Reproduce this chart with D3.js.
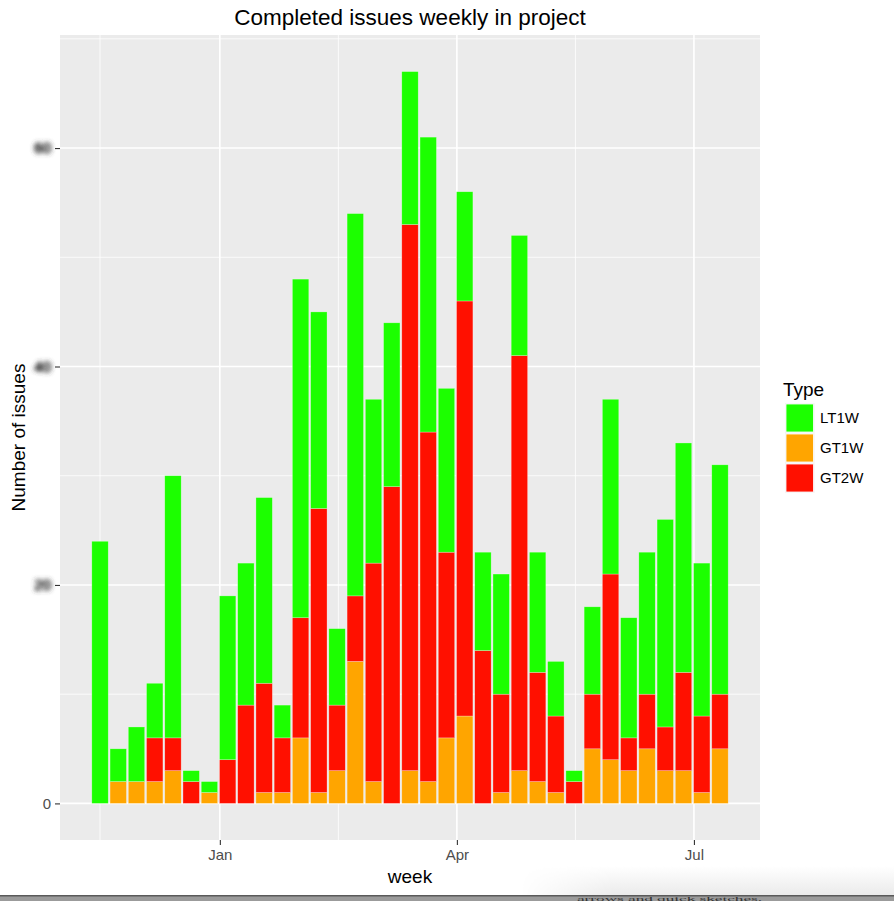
<!DOCTYPE html>
<html>
<head>
<meta charset="utf-8">
<script src="https://cdn.jsdelivr.net/npm/d3@7"></script>
<style>
  body { margin: 0; background: #fff; }
  svg { display: block; font-family: "Liberation Sans", Arial, Helvetica, sans-serif; }
</style>
</head>
<body>
<div id="canvas"></div>
<script>
// weekly buckets (week start, Monday)
var weeks = ["2015-11-16","2015-11-23","2015-11-30","2015-12-07","2015-12-14","2015-12-21","2015-12-28",
             "2016-01-04","2016-01-11","2016-01-18","2016-01-25","2016-02-01","2016-02-08","2016-02-15",
             "2016-02-22","2016-02-29","2016-03-07","2016-03-14","2016-03-21","2016-03-28","2016-04-04",
             "2016-04-11","2016-04-18","2016-04-25","2016-05-02","2016-05-09","2016-05-16","2016-05-23",
             "2016-05-30","2016-06-06","2016-06-13","2016-06-20","2016-06-27","2016-07-04","2016-07-11"];
var lt1w = [24,3,5,5,24,1,1,15,13,17,3,31,18,7,35,15,15,14,27,15,10,9,11,11,11,5,1,8,16,11,13,19,21,14,21];
var gt1w = [0,2,2,2,3,0,1,0,0,1,1,6,1,3,13,2,0,3,2,6,8,0,1,3,2,1,0,5,4,3,5,3,3,1,5];
var gt2w = [0,0,0,4,3,2,0,4,9,10,5,11,26,6,6,20,29,50,32,17,38,14,9,38,10,7,2,5,17,3,5,4,9,7,5];

var types = ["LT1W", "GT1W", "GT2W"];
var typeColours = ["#1cff00", "#ffa500", "#ff1000"];
var yTicks = [0, 20, 40, 60];
var xTickDates = ["2016-01-01", "2016-04-01", "2016-07-01"];
var xTickLabels = ["Jan", "Apr", "Jul"];

var W = 894, H = 901;
var panel = {left: 60, right: 760, top: 35, bottom: 840};
var DAY = 864e5;

var parse = d3.utcParse("%Y-%m-%d");
var data = weeks.map(function (w, i) {
    return {week: parse(w), LT1W: lt1w[i], GT1W: gt1w[i], GT2W: gt2w[i]};
});

var svg = d3.select("#canvas").append("svg")
    .attr("width", W)
    .attr("height", H);

var defs = svg.append("defs");
// the y tick labels are blurred out in the original
var blur = defs.append("filter").attr("id", "smudge")
    .attr("x", "-60%").attr("y", "-60%").attr("width", "220%").attr("height", "220%");
blur.append("feGaussianBlur").attr("stdDeviation", 2.8);
var ct = blur.append("feComponentTransfer");
ct.append("feFuncA").attr("type", "linear").attr("slope", 2.2);

var shade = defs.append("linearGradient").attr("id", "shade")
    .attr("x1", 0).attr("y1", 0).attr("x2", 0).attr("y2", 1);
shade.append("stop").attr("offset", "0%").attr("stop-color", "#ffffff");
shade.append("stop").attr("offset", "100%").attr("stop-color", "#ebebeb");
var fade = defs.append("linearGradient").attr("id", "fade")
    .attr("x1", 0).attr("y1", 0).attr("x2", 1).attr("y2", 0);
fade.append("stop").attr("offset", "0%").attr("stop-color", "#000");
fade.append("stop").attr("offset", "25%").attr("stop-color", "#fff");
fade.append("stop").attr("offset", "100%").attr("stop-color", "#fff");
defs.append("mask").attr("id", "fadeMask")
    .append("rect").attr("x", 520).attr("y", 860).attr("width", W - 520).attr("height", 40)
    .attr("fill", "url(#fade)");

// scales, with ggplot style 5% expansion
var halfBar = 0.45 * 7 * DAY;
var xMin = d3.min(data, function (d) { return d.week; }).getTime() - halfBar;
var xMax = d3.max(data, function (d) { return d.week; }).getTime() + halfBar;
var xPad = (xMax - xMin) * 0.05;
var x = d3.scaleUtc()
    .domain([new Date(xMin - xPad), new Date(xMax + xPad)])
    .range([panel.left, panel.right]);

var yMax = d3.max(data, function (d) { return d.LT1W + d.GT1W + d.GT2W; });
var y = d3.scaleLinear()
    .domain([-yMax * 0.05, yMax * 1.05])
    .range([panel.bottom, panel.top]);

// panel background and grid
svg.append("rect")
    .attr("x", panel.left).attr("y", panel.top)
    .attr("width", panel.right - panel.left).attr("height", panel.bottom - panel.top)
    .attr("fill", "#ebebeb");

var majorX = xTickDates.map(parse);
var minorX = [];
var allMajor = [d3.utcMonth.offset(majorX[0], -3)].concat(majorX, [d3.utcMonth.offset(majorX[2], 3)]);
for (var i = 0; i < allMajor.length - 1; i++) {
    var mid = new Date((allMajor[i].getTime() + allMajor[i + 1].getTime()) / 2);
    if (x(mid) > panel.left && x(mid) < panel.right) minorX.push(mid);
}
var minorY = [10, 30, 50, 70];

var grid = svg.append("g");
grid.selectAll("line.minx").data(minorX).enter().append("line")
    .attr("x1", function (d) { return x(d); }).attr("x2", function (d) { return x(d); })
    .attr("y1", panel.top).attr("y2", panel.bottom)
    .attr("stroke", "#fff").attr("stroke-width", 0.8);
grid.selectAll("line.miny").data(minorY).enter().append("line")
    .attr("y1", function (d) { return y(d); }).attr("y2", function (d) { return y(d); })
    .attr("x1", panel.left).attr("x2", panel.right)
    .attr("stroke", "#fff").attr("stroke-width", 0.8);
grid.selectAll("line.majx").data(majorX).enter().append("line")
    .attr("x1", function (d) { return x(d); }).attr("x2", function (d) { return x(d); })
    .attr("y1", panel.top).attr("y2", panel.bottom)
    .attr("stroke", "#fff").attr("stroke-width", 1.6);
grid.selectAll("line.majy").data(yTicks).enter().append("line")
    .attr("y1", function (d) { return y(d); }).attr("y2", function (d) { return y(d); })
    .attr("x1", panel.left).attr("x2", panel.right)
    .attr("stroke", "#fff").attr("stroke-width", 1.6);

// stacked bars: GT1W at the bottom, GT2W, then LT1W on top
var stackKeys = ["GT1W", "GT2W", "LT1W"];
var series = d3.stack().keys(stackKeys)(data);
var colour = d3.scaleOrdinal().domain(types).range(typeColours);

svg.append("g").selectAll("g")
    .data(series)
    .enter().append("g")
    .attr("fill", function (s) { return colour(s.key); })
    .selectAll("rect")
    .data(function (s) { return s.filter(function (d) { return d[1] > d[0]; }); })
    .enter().append("rect")
    .attr("x", function (d) { return x(new Date(d.data.week.getTime() - halfBar)); })
    .attr("width", function (d) { return x(new Date(d.data.week.getTime() + halfBar)) - x(new Date(d.data.week.getTime() - halfBar)); })
    .attr("y", function (d) { return y(d[1]); })
    .attr("height", function (d) { return y(d[0]) - y(d[1]); })
    .attr("stroke", "#ffffff")
    .attr("stroke-opacity", 0.45)
    .attr("stroke-width", 0.6);

// axes
var xAxis = d3.axisBottom(x)
    .tickValues(majorX)
    .tickFormat(function (d, i) { return xTickLabels[i]; })
    .tickSize(5).tickPadding(4);
var gx = svg.append("g").attr("transform", "translate(0," + panel.bottom + ")").call(xAxis);
gx.select(".domain").remove();
gx.selectAll("line").attr("stroke", "#333").attr("stroke-width", 1.1);
gx.selectAll("text").attr("fill", "#4d4d4d").attr("font-size", 15).attr("font-family", null);

var yAxis = d3.axisLeft(y)
    .tickValues(yTicks)
    .tickFormat(d3.format("d"))
    .tickSize(5).tickPadding(4);
var gy = svg.append("g").attr("transform", "translate(" + panel.left + ",0)").call(yAxis);
gy.select(".domain").remove();
gy.selectAll("line").attr("stroke", "#333").attr("stroke-width", 1.1);
gy.selectAll("text").attr("fill", "#4d4d4d").attr("font-size", 15).attr("font-family", null)
    .attr("filter", function (d) { return d === 0 ? null : "url(#smudge)"; });

// titles
svg.append("text")
    .attr("x", (panel.left + panel.right) / 2).attr("y", 25)
    .attr("text-anchor", "middle").attr("font-size", 22.5).attr("fill", "#000")
    .text("Completed issues weekly in project");

svg.append("text")
    .attr("x", (panel.left + panel.right) / 2).attr("y", 883)
    .attr("text-anchor", "middle").attr("font-size", 19).attr("fill", "#000")
    .text("week");

svg.append("text")
    .attr("transform", "translate(25," + (panel.top + panel.bottom) / 2 + ") rotate(-90)")
    .attr("text-anchor", "middle").attr("font-size", 19).attr("fill", "#000")
    .text("Number of issues");

// legend
var legend = svg.append("g").attr("transform", "translate(783,0)");
legend.append("text").attr("x", 0).attr("y", 396)
    .attr("font-size", 19).attr("fill", "#000").text("Type");
var keys = legend.selectAll("g.key").data(types).enter().append("g")
    .attr("transform", function (d, i) { return "translate(2," + (403 + i * 30) + ")"; });
keys.append("rect").attr("width", 29.5).attr("height", 30).attr("fill", "#f2f2f2");
keys.append("rect").attr("x", 1).attr("y", 1).attr("width", 27.5).attr("height", 28)
    .attr("fill", function (d) { return colour(d); })
    .attr("stroke", "#fff").attr("stroke-width", 0.8);
keys.append("text").attr("x", 35).attr("y", 15).attr("dy", "0.35em")
    .attr("font-size", 15).attr("fill", "#000").text(function (d) { return d; });

// bottom edge of the screenshot
svg.append("rect").attr("x", 520).attr("y", 866).attr("width", W - 520).attr("height", 29)
    .attr("fill", "url(#shade)").attr("mask", "url(#fadeMask)");
svg.append("rect").attr("x", 0).attr("y", 895).attr("width", W).attr("height", 6).attr("fill", "#9b9b9b");
svg.append("rect").attr("x", 0).attr("y", 895).attr("width", W).attr("height", 1.5).attr("fill", "#5a5a5a");
svg.append("text").attr("x", 577).attr("y", 900.5)
    .attr("font-family", "Liberation Serif, serif").attr("font-size", 6).attr("fill", "#333")
    .attr("textLength", 185).attr("lengthAdjust", "spacingAndGlyphs")
    .text("arrows and quick sketches.");
</script>
</body>
</html>
